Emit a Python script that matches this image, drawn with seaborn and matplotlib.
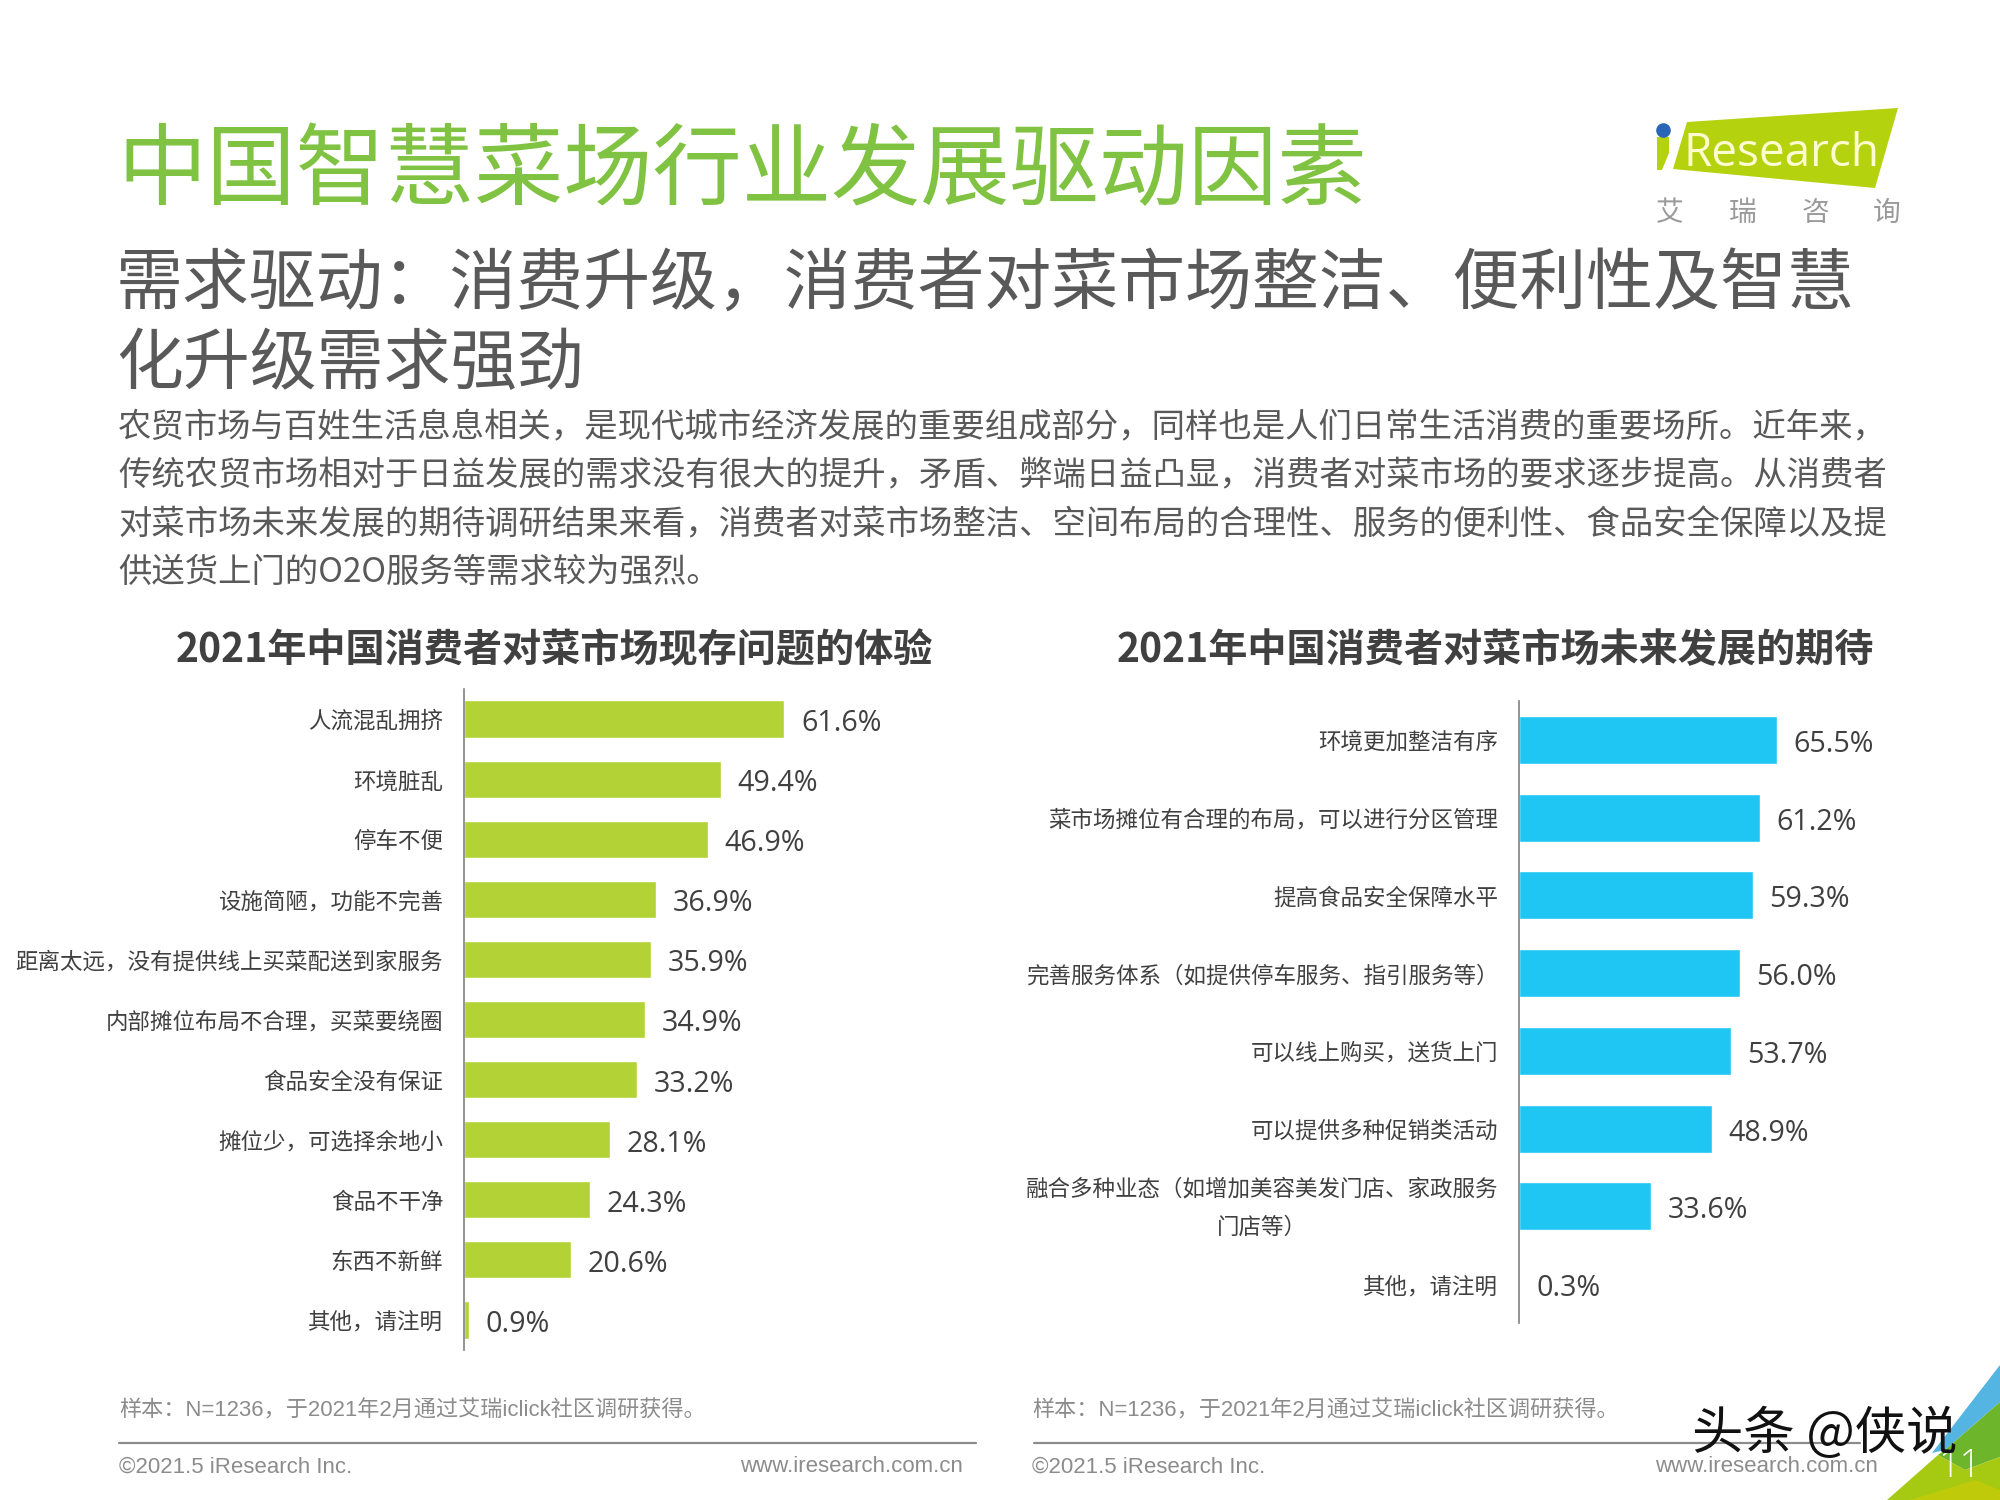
import matplotlib
matplotlib.use("Agg")
import matplotlib.pyplot as plt
from matplotlib.patches import Polygon
from matplotlib.lines import Line2D
from matplotlib.transforms import ScaledTranslation
import seaborn as sns

# dados dos dois graficos (pontuacao de largura total escrita com escapes)
problemas = ["人流混乱拥挤", "环境脏乱", "停车不便", "设施简陋\uff0c功能不完善",
             "距离太远\uff0c没有提供线上买菜配送到家服务", "内部摊位布局不合理\uff0c买菜要绕圈",
             "食品安全没有保证", "摊位少\uff0c可选择余地小", "食品不干净", "东西不新鲜", "其他\uff0c请注明"]
problemas_pct = [61.6, 49.4, 46.9, 36.9, 35.9, 34.9, 33.2, 28.1, 24.3, 20.6, 0.9]

expectativas = ["环境更加整洁有序", "菜市场摊位有合理的布局\uff0c可以进行分区管理", "提高食品安全保障水平",
                "完善服务体系\uff08如提供停车服务、指引服务等\uff09", "可以线上购买\uff0c送货上门", "可以提供多种促销类活动",
                "融合多种业态\uff08如增加美容美发门店、家政服务\n门店等\uff09", "其他\uff0c请注明"]
expectativas_pct = [65.5, 61.2, 59.3, 56.0, 53.7, 48.9, 33.6, 0.3]

titulo = "中国智慧菜场行业发展驱动因素"
subtitulo = ["需求驱动\uff1a消费升级\uff0c消费者对菜市场整洁、便利性及智慧", "化升级需求强劲"]
paragrafo = ["农贸市场与百姓生活息息相关\uff0c是现代城市经济发展的重要组成部分\uff0c同样也是人们日常生活消费的重要场所。近年来\uff0c",
             "传统农贸市场相对于日益发展的需求没有很大的提升\uff0c矛盾、弊端日益凸显\uff0c消费者对菜市场的要求逐步提高。从消费者",
             "对菜市场未来发展的期待调研结果来看\uff0c消费者对菜市场整洁、空间布局的合理性、服务的便利性、食品安全保障以及提",
             "供送货上门的O2O服务等需求较为强烈。"]
titulo_esq = "2021年中国消费者对菜市场现存问题的体验"
titulo_dir = "2021年中国消费者对菜市场未来发展的期待"
nota = "样本\uff1aN=1236\uff0c于2021年2月通过艾瑞iclick社区调研获得。"

sns.set_theme(style="white")
plt.rcParams["font.family"] = ["Noto Sans CJK SC", "DejaVu Sans"]

W, H = 2000, 1500
fig = plt.figure(figsize=(20, 15), dpi=100, facecolor="white")


def texto(x, y, s, **kw):
    # x, y em pixels da imagem
    kw.setdefault("va", "center")
    return fig.text(x / W, 1 - y / H, s, **kw)


def poligono(pts, cor):
    fig.add_artist(Polygon([(x / W, 1 - y / H) for x, y in pts], closed=True,
                           transform=fig.transFigure, facecolor=cor, edgecolor="none"))


def barras(caixa, cats, vals, cor, px_por_pct):
    x0, y0, x1, y1 = caixa
    ax = fig.add_axes([x0 / W, 1 - y1 / H, (x1 - x0) / W, (y1 - y0) / H], facecolor="none")
    sns.barplot(x=vals, y=cats, color=cor, saturation=1, width=0.62, ax=ax)
    ax.set_xlim(0, (x1 - x0) / px_por_pct)
    ax.set_ylim(len(cats) - 0.5, -0.5)
    ax.set_xlabel("")
    ax.set_ylabel("")
    ax.set_xticks([])
    ax.tick_params(axis="y", length=0, pad=15, labelsize=16.2, labelcolor="#404040")
    for t in ax.get_yticklabels():
        t.set_fontweight("light")
        if "\n" in t.get_text():
            # rotulo de duas linhas fica um pouco acima do centro da barra
            t.set_multialignment("center")
            t.set_linespacing(1.85)
            t.set_transform(t.get_transform() + ScaledTranslation(0, 5.8 / 72, fig.dpi_scale_trans))
    for lado in ["top", "right", "bottom"]:
        ax.spines[lado].set_visible(False)
    ax.spines["left"].set_color("#808080")
    ax.spines["left"].set_linewidth(1.2)
    rotulos = ax.bar_label(ax.containers[0], fmt="%.1f%%", padding=12, fontsize=20.6, color="#404040",
                           family=["Open Sans", "Noto Sans CJK SC"])
    for r in rotulos:
        r.xyann = (12, -3.2)
    return ax


# cabecalho
texto(117, 173, titulo, fontsize=64.3, color="#80C241", fontweight="light")
texto(116, 285, subtitulo[0], fontsize=48.2, color="#595959", fontweight="light")
texto(116, 365, subtitulo[1], fontsize=48.2, color="#595959", fontweight="light")
for y, linha in zip([428, 476, 525, 572], paragrafo):
    texto(118, y, linha, fontsize=24, color="#595959", fontweight="light")

# logo
poligono([(1687, 122), (1898, 108), (1875, 188), (1673, 169)], "#B5D20E")
poligono([(1657, 137), (1669, 137), (1669, 153), (1662, 170), (1657, 170)], "#B5D20E")
fig.add_artist(Line2D([1663 / W], [1 - 130 / H], marker="o", ms=9.5, color="#2A66B5",
                      transform=fig.transFigure))
texto(1781, 154, "Research", fontsize=33, color="#FDFBD0", ha="center",
      family=["Open Sans", "DejaVu Sans"])
for x, c in zip([1670, 1743, 1815, 1887], "艾瑞咨询"):
    texto(x, 213, c, fontsize=20, color="#9A9A9A", ha="center", fontweight="light")

# graficos
texto(176, 651, titulo_esq, fontsize=28.2, color="#404040", fontweight="bold")
texto(1117, 651, titulo_dir, fontsize=28.2, color="#404040", fontweight="bold")
barras((464, 689, 1000, 1350), problemas, problemas_pct, "#B2D235", 5.2)
barras((1519, 701, 1950, 1323), expectativas, expectativas_pct, "#1FC6F3", 3.94)

# rodape
for x0, x1, x_txt, x_url in [(119, 976, 119, 963), (1034, 1860, 1032, 1878)]:
    fig.add_artist(Line2D([x0 / W, x1 / W], [1 - 1442.5 / H] * 2, color="#8C8C8C", lw=1.6,
                          transform=fig.transFigure))
    texto(x_txt, 1467, "©2021.5 iResearch Inc.", fontsize=16, color="#8C8C8C",
          family=["Liberation Sans", "DejaVu Sans"])
    texto(x_url, 1467, "www.iresearch.com.cn", fontsize=16, color="#8C8C8C", ha="right",
          family=["Liberation Sans", "DejaVu Sans"])
for x in [119, 1032]:
    texto(x, 1411, nota, fontsize=15.9, color="#8C8C8C", fontweight="light",
          family=["Liberation Sans", "Noto Sans CJK SC"])

# canto inferior direito
poligono([(1932, 1453), (2000, 1365), (2000, 1402), (1945, 1450)], "#54B5E3")
poligono([(1945, 1450), (2000, 1402), (2000, 1457), (1965, 1470), (1938, 1455)], "#6DB52A")
poligono([(1887, 1500), (1938, 1455), (1965, 1470), (2000, 1457), (2000, 1500)], "#A6C912")
poligono([(1910, 1500), (1975, 1480), (2000, 1490), (2000, 1500)], "#BFCB0A")
texto(1960, 1467, "11", fontsize=27, color="white", ha="center", fontweight="light",
      family=["Open Sans", "DejaVu Sans"])

# marca d'agua
texto(1825, 1434, "头条 @侠说", fontsize=37, color="#111111", ha="center", zorder=10,
      fontweight="medium")

plt.savefig("out.png", dpi=100, facecolor="white")
